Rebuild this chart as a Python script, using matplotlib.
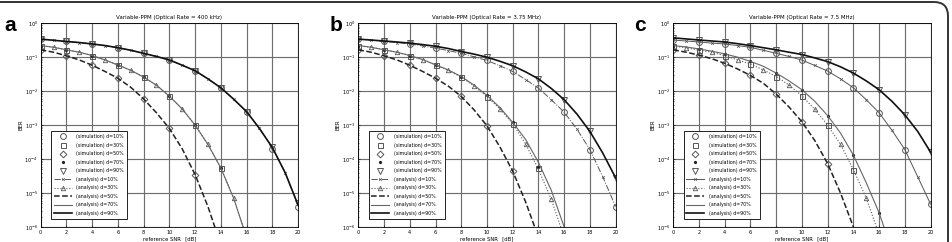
import numpy as np
import matplotlib
matplotlib.use('Agg')
import matplotlib.pyplot as plt
from matplotlib.patches import FancyBboxPatch

# SNR axis
snr_an = np.arange(0, 21)          # analysis curves, every dB
snr_sim = np.arange(0, 21, 2)      # simulation points, every 2 dB
nan = np.nan

titles = ['Variable-PPM (Optical Rate = 400 kHz)',
          'Variable-PPM (Optical Rate = 3.75 MHz)',
          'Variable-PPM (Optical Rate = 7.5 MHz)']
letters = ['a', 'b', 'c']

# ---- panel a ----
a_an10 = [0.34, 0.315, 0.29, 0.27, 0.245, 0.22, 0.19, 0.16, 0.13, 0.105, 0.083, 0.058, 0.04, 0.023, 0.0126,
          5.8e-3, 2.5e-3, 8e-4, 2.2e-4, 4e-5, 4.3e-6]
a_an30 = [0.22, 0.196, 0.165, 0.14, 0.112, 0.083, 0.059, 0.041, 0.026, 0.015, 7.1e-3, 3.0e-3, 1.0e-3, 2.7e-4,
          5.5e-5, 7e-6, 5e-7]
a_an50 = [0.165, 0.14, 0.11, 0.083, 0.058, 0.038, 0.024, 0.013, 5.9e-3, 2.3e-3, 8e-4, 2e-4, 3.5e-5, 4e-6, 3e-7]
a_an70 = [0.22, 0.196, 0.165, 0.14, 0.112, 0.083, 0.059, 0.041, 0.026, 0.015, 7.1e-3, 3.0e-3, 1.0e-3, 2.7e-4,
          5.5e-5, 7e-6, 5e-7]
a_an90 = [0.34, 0.315, 0.29, 0.27, 0.245, 0.22, 0.19, 0.16, 0.13, 0.105, 0.083, 0.058, 0.04, 0.023, 0.0126,
          5.8e-3, 2.5e-3, 8e-4, 2.2e-4, 4e-5, 4.5e-6]
a_sim10 = [0.34, 0.29, 0.245, 0.19, 0.13, 0.083, 0.04, 0.0126, 2.5e-3, 2.0e-4, 4.0e-6]
a_sim30 = [0.22, 0.165, 0.112, 0.059, 0.026, 7.1e-3, 1.0e-3, 5.5e-5, nan, nan, nan]
a_sim50 = [0.165, 0.11, 0.058, 0.024, 5.9e-3, 8e-4, 3.5e-5, nan, nan, nan, nan]
a_sim70 = [0.22, 0.165, 0.112, 0.059, 0.026, 7.1e-3, 1.0e-3, 5.5e-5, nan, nan, nan]
a_sim90 = [0.34, 0.29, 0.245, 0.19, 0.13, 0.083, 0.04, 0.0126, 2.5e-3, 2.3e-4, 5.0e-6]

# ---- panel b ----
b_an10 = [0.34, 0.315, 0.29, 0.27, 0.245, 0.215, 0.184, 0.157, 0.13, 0.103, 0.08, 0.056, 0.038, 0.022, 0.0123,
          5.6e-3, 2.4e-3, 7.5e-4, 1.9e-4, 3e-5, 4e-6]
b_an30 = [0.22, 0.196, 0.165, 0.14, 0.112, 0.085, 0.059, 0.041, 0.026, 0.014, 6.9e-3, 3e-3, 1.1e-3, 2.8e-4,
          5e-5, 6.5e-6, 5e-7]
b_an50 = [0.165, 0.14, 0.11, 0.083, 0.058, 0.038, 0.024, 0.014, 7e-3, 2.8e-3, 9.5e-4, 2.3e-4, 4.4e-5, 5.5e-6, 5e-7]
b_an70 = [0.22, 0.196, 0.165, 0.14, 0.112, 0.085, 0.06, 0.042, 0.027, 0.015, 7.5e-3, 3.3e-3, 1.2e-3, 3.8e-4,
          8e-5, 1.2e-5, 1e-6, 5e-8]
b_an90 = [0.34, 0.32, 0.30, 0.28, 0.26, 0.235, 0.21, 0.18, 0.147, 0.123, 0.1, 0.076, 0.056, 0.037, 0.023,
          0.012, 5.6e-3, 2.1e-3, 6.5e-4, 1.5e-4, 2.8e-5]
b_sim10 = [0.34, 0.29, 0.245, 0.184, 0.13, 0.08, 0.038, 0.0123, 2.4e-3, 1.9e-4, 4e-6]
b_sim30 = [0.22, 0.165, 0.112, 0.059, 0.026, 6.9e-3, 1.1e-3, 5.5e-5, nan, nan, nan]
b_sim50 = [0.165, 0.11, 0.058, 0.024, 7e-3, 9.5e-4, 4.4e-5, nan, nan, nan, nan]
b_sim70 = [0.22, 0.165, 0.112, 0.06, 0.027, 7.5e-3, 1.2e-3, 6e-5, nan, nan, nan]
b_sim90 = [0.34, 0.30, 0.26, 0.21, 0.147, 0.1, 0.056, 0.023, 5.6e-3, 6.5e-4, 2.8e-5]

# ---- panel c ----
c_an10 = [0.32, 0.30, 0.28, 0.26, 0.245, 0.22, 0.195, 0.16, 0.13, 0.105, 0.082, 0.057, 0.039, 0.023, 0.0126,
          5.6e-3, 2.3e-3, 7e-4, 1.9e-4, 3e-5, 4.7e-6]
c_an30 = [0.21, 0.19, 0.16, 0.14, 0.11, 0.083, 0.063, 0.042, 0.027, 0.015, 7.3e-3, 2.9e-3, 1e-3, 2.7e-4,
          4.9e-5, 7e-6, 6e-7]
c_an50 = [0.165, 0.14, 0.115, 0.09, 0.066, 0.045, 0.029, 0.017, 8.2e-3, 3.4e-3, 1.25e-3, 3.5e-4, 7.3e-5, 1e-5,
          1e-6, 6e-8]
c_an70 = [0.22, 0.2, 0.175, 0.15, 0.125, 0.1, 0.075, 0.054, 0.034, 0.02, 0.011, 5e-3, 1.9e-3, 5.8e-4, 1.3e-4,
          2e-5, 2.6e-6, 2e-7]
c_an90 = [0.37, 0.345, 0.32, 0.30, 0.28, 0.25, 0.22, 0.19, 0.165, 0.14, 0.12, 0.095, 0.074, 0.052, 0.034,
          0.02, 0.011, 5e-3, 2e-3, 6.5e-4, 1.6e-4]
c_sim10 = [0.32, 0.28, 0.245, 0.195, 0.13, 0.082, 0.039, 0.0126, 2.3e-3, 1.9e-4, 4.7e-6]
c_sim30 = [0.21, 0.16, 0.11, 0.063, 0.027, 7.3e-3, 1e-3, 4.9e-5, nan, nan, nan]
c_sim50 = [0.165, 0.115, 0.066, 0.029, 8.2e-3, 1.25e-3, 7.3e-5, nan, nan, nan, nan]
c_sim70 = [0.22, 0.175, 0.125, 0.075, 0.034, 0.011, 1.9e-3, 1.3e-4, 2.6e-6, nan, nan]
c_sim90 = [0.37, 0.32, 0.28, 0.22, 0.165, 0.12, 0.074, 0.034, 0.011, 2e-3, 1.6e-4]

panels = [
    (a_an10, a_an30, a_an50, a_an70, a_an90, a_sim10, a_sim30, a_sim50, a_sim70, a_sim90),
    (b_an10, b_an30, b_an50, b_an70, b_an90, b_sim10, b_sim30, b_sim50, b_sim70, b_sim90),
    (c_an10, c_an30, c_an50, c_an70, c_an90, c_sim10, c_sim30, c_sim50, c_sim70, c_sim90),
]
an10_style = ['-.', '-.', '-']

fig = plt.figure(figsize=(9.53, 2.42), dpi=100)
lefts = [0.0427, 0.376, 0.7065]
gray = '#555555'
fs = 3.4

for i, (an10, an30, an50, an70, an90, s10, s30, s50, s70, s90) in enumerate(panels):
    ax = fig.add_axes([lefts[i], 0.062, 0.27, 0.842])
    ax.set_yscale('log')
    ms = 4.2
    mfc = 'none'
    # simulation markers
    ax.plot(snr_sim, s10, 'o', ms=ms, mfc=mfc, mec=gray, mew=0.7, label='(simulation) d=10%')
    ax.plot(snr_sim, s30, 's', ms=ms - 0.6, mfc=mfc, mec=gray, mew=0.7, label='(simulation) d=30%')
    ax.plot(snr_sim, s50, 'D', ms=ms - 0.8, mfc=mfc, mec=gray, mew=0.7, label='(simulation) d=50%')
    ax.plot(snr_sim, s70, '.', ms=2.6, color='#222222', label='(simulation) d=70%')
    ax.plot(snr_sim, s90, 'v', ms=ms, mfc=mfc, mec=gray, mew=0.7, label='(simulation) d=90%')
    # analysis curves
    ax.plot(snr_an[:len(an10)], an10, linestyle=an10_style[i], marker='x', ms=2, markevery=slice(1, None, 2),
            color=gray, lw=0.7, mew=0.5, label='(analysis) d=10%')
    ax.plot(snr_an[:len(an30)], an30, linestyle=':', marker='^', ms=3.2, mfc='none', markevery=slice(1, None, 2),
            color=gray, lw=0.8, mew=0.6, label='(analysis) d=30%')
    ax.plot(snr_an[:len(an50)], an50, '--', color='#222222', lw=1.1, label='(analysis) d=50%')
    ax.plot(snr_an[:len(an70)], an70, '-', color='#666666', lw=0.8, label='(analysis) d=70%')
    ax.plot(snr_an[:len(an90)], an90, '-', color='#111111', lw=1.2, label='(analysis) d=90%')

    ax.set_xlim(0, 20)
    ax.set_ylim(1e-6, 1)
    ax.set_xticks(np.arange(0, 21, 2))
    ax.set_yticks([1e-6, 1e-5, 1e-4, 1e-3, 1e-2, 1e-1, 1])
    ax.grid(True, which='major', color='#6f6f6f', lw=0.85)
    ax.tick_params(which='both', direction='in', labelsize=3.6, length=1.5, width=0.4, pad=2)
    ax.tick_params(which='minor', length=1.0)
    for sp in ax.spines.values():
        sp.set_linewidth(0.6)
    ax.set_title(titles[i], fontsize=4, pad=3)
    ax.set_xlabel('reference SNR_ [dB]', fontsize=3.8, labelpad=1)
    ax.set_ylabel('BER', fontsize=3.8, labelpad=1)
    leg = ax.legend(loc='lower left', bbox_to_anchor=(0.04, 0.04), fontsize=fs, frameon=True,
                    fancybox=False, edgecolor='black', framealpha=1, labelspacing=0.75,
                    handlelength=3.8, handletextpad=1.0, borderpad=0.6, borderaxespad=0)
    leg.get_frame().set_linewidth(0.6)

fig.text(0.005, 0.87, 'a', fontsize=15, fontweight='bold', family='Liberation Sans')
fig.text(0.346, 0.87, 'b', fontsize=15, fontweight='bold', family='Liberation Sans')
fig.text(0.665, 0.87, 'c', fontsize=15, fontweight='bold', family='Liberation Sans')

# rounded border around the figure (top and right visible)
border = FancyBboxPatch((-30, -30), 978, 270, boxstyle='round,pad=0,rounding_size=14',
                        transform=None, fill=False, edgecolor='#333333', lw=1.4)
fig.patches.append(border)

fig.savefig('out.png', dpi=100)
